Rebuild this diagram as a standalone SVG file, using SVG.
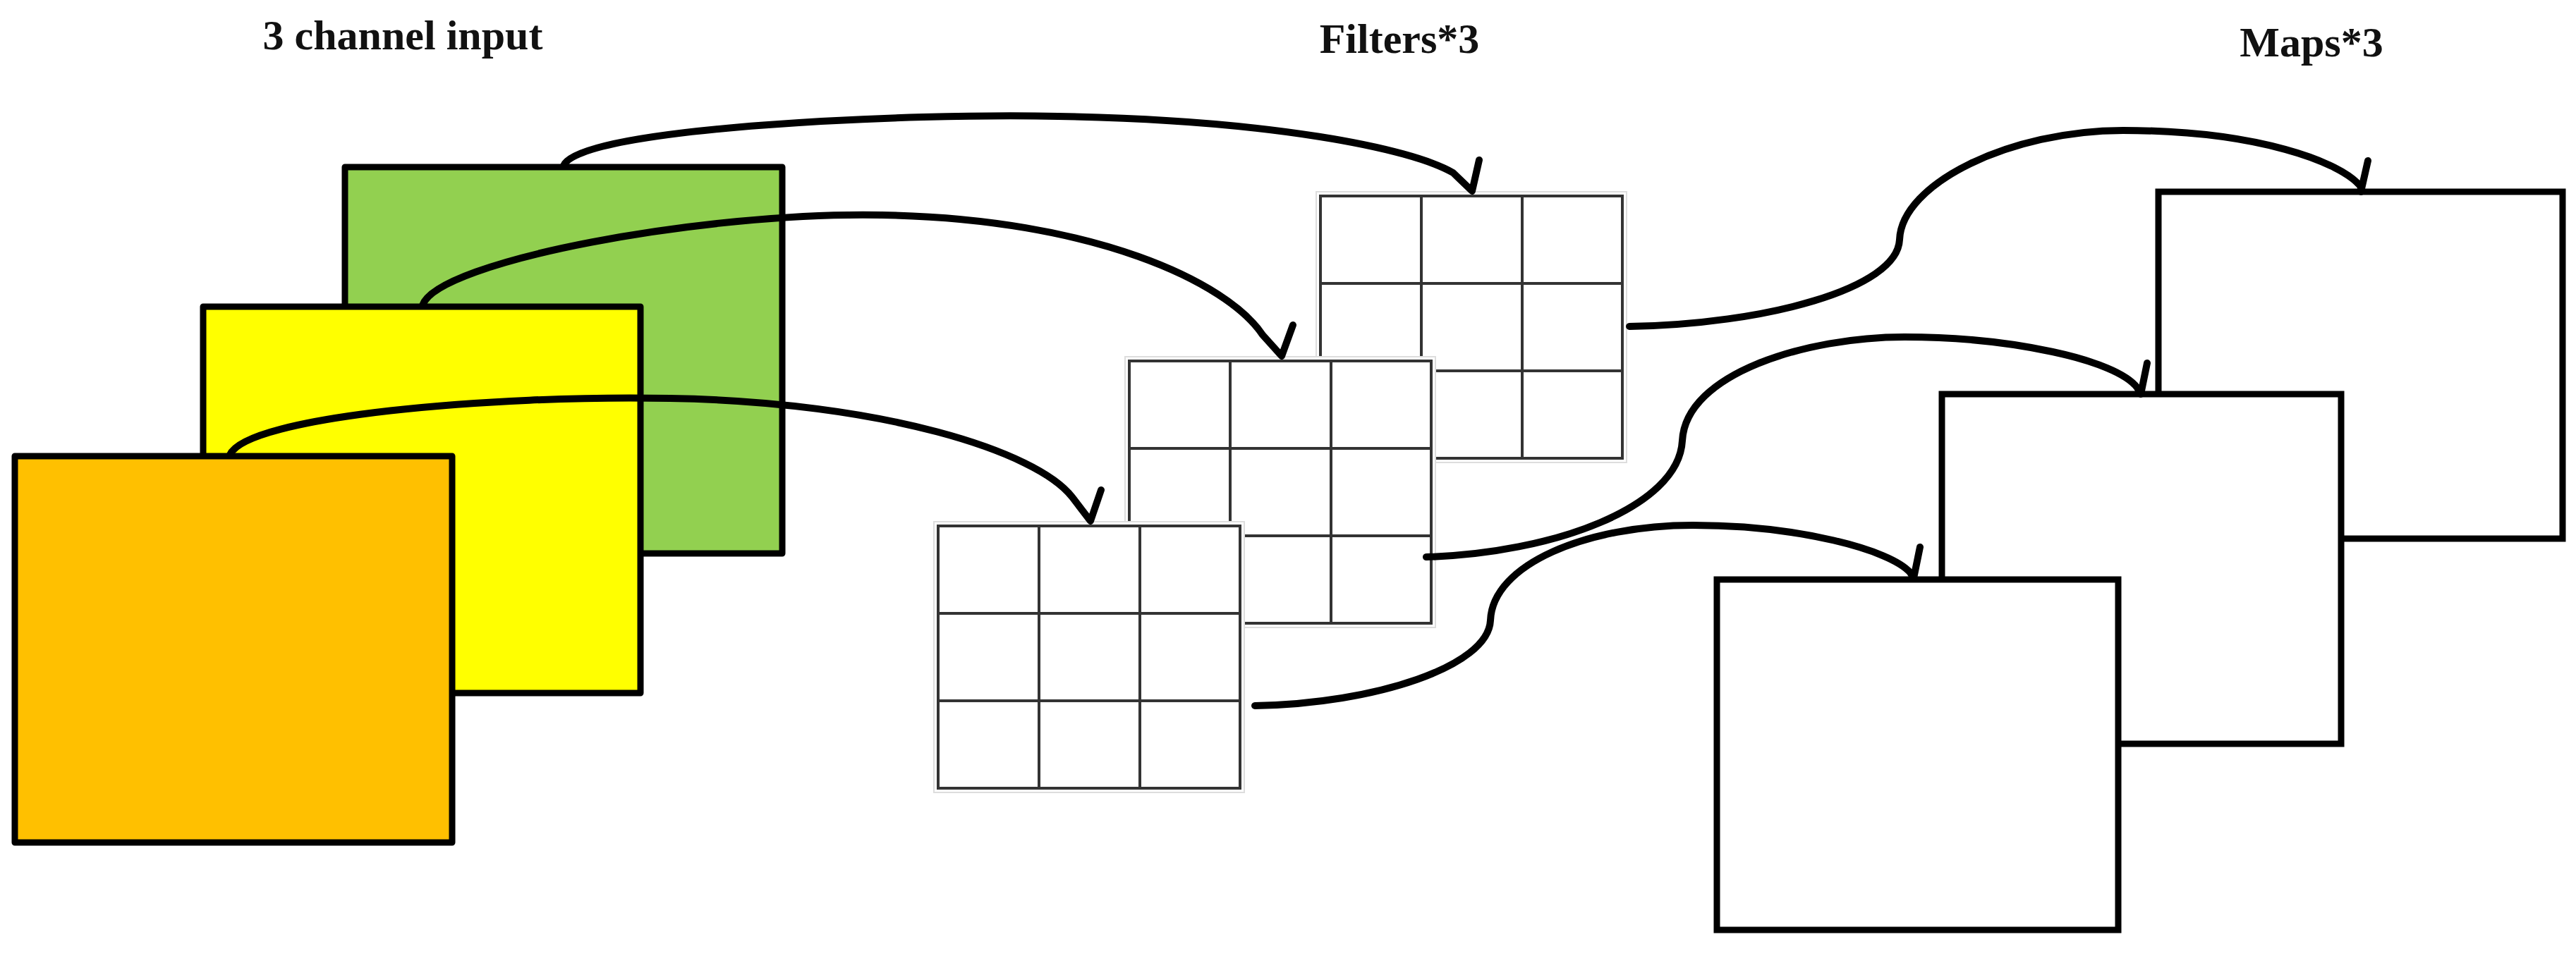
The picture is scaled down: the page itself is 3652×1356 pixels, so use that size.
<svg xmlns="http://www.w3.org/2000/svg" width="3652" height="1356" viewBox="0 0 3652 1356">
<style>
.title{font-family:"Liberation Serif","DejaVu Serif",serif;font-weight:bold;font-size:60px;fill:#111;text-anchor:middle}
.ch{stroke:#000;stroke-width:9;stroke-linejoin:round}
.map{fill:#fff;stroke:#000;stroke-width:9}
.fo{fill:#fff;stroke:#ddd;stroke-width:2}
.fg{fill:none;stroke:#333;stroke-width:4}
.c{fill:none;stroke:#000;stroke-width:10;stroke-linecap:round;stroke-linejoin:round}
</style>
<defs>
<g id="grid">
<rect class="fo" x="-6" y="-6" width="440" height="384"/>
<rect class="fg" x="0" y="0" width="428" height="372"/>
<path class="fg" d="M143,0V372M286,0V372M0,124H428M0,248H428"/>
</g>
</defs>
<rect width="3652" height="1356" fill="#fff"/>
<text class="title" x="571" y="70">3 channel input</text>
<text class="title" x="1984" y="75">Filters*3</text>
<text class="title" x="3277" y="80">Maps*3</text>
<g id="input-green"><rect class="ch" x="489" y="237" width="620" height="548" fill="#92d050"/></g>
<g id="input-yellow"><rect class="ch" x="288" y="435" width="620" height="548" fill="#ffff00"/></g>
<g id="input-orange"><rect class="ch" x="21" y="647" width="620" height="548" fill="#ffc000"/></g>
<g id="filter-back"><use href="#grid" x="1872" y="278"/></g>
<g id="filter-mid"><use href="#grid" x="1601" y="512"/></g>
<g id="filter-front"><use href="#grid" x="1330" y="746"/></g>
<g id="map-back"><rect class="map" x="3060" y="272" width="573" height="492"/></g>
<g id="map-mid"><rect class="map" x="2753" y="559" width="566" height="496"/></g>
<g id="map-front"><rect class="map" x="2434" y="822" width="569" height="497"/></g>
<g id="connectors">
<path class="c" d="M799,235 C820,180 1300,160 1500,165 C1800,170 2000,210 2060,245 L2087,271 L2097,227"/>
<path class="c" d="M599,433 C620,370 1000,300 1250,305 C1550,310 1740,400 1790,475 L1817,505 L1833,461"/>
<path class="c" d="M326,645 C350,590 700,560 950,565 C1250,570 1470,640 1520,705 L1546,739 L1561,695"/>
<path class="c" d="M2310,463 C2500,460 2690,410 2693,340 C2696,260 2850,185 3010,185 C3200,185 3320,230 3347,265 L3347,272 L3357,228"/>
<path class="c" d="M2022,790 C2200,785 2380,720 2385,625 C2390,530 2560,478 2700,478 C2850,478 3000,510 3030,550 L3035,559 L3044,515"/>
<path class="c" d="M1779,1001 C1950,998 2110,945 2113,880 C2116,800 2250,745 2400,745 C2550,745 2680,780 2708,812 L2713,820 L2722,776"/>
</g>
</svg>
